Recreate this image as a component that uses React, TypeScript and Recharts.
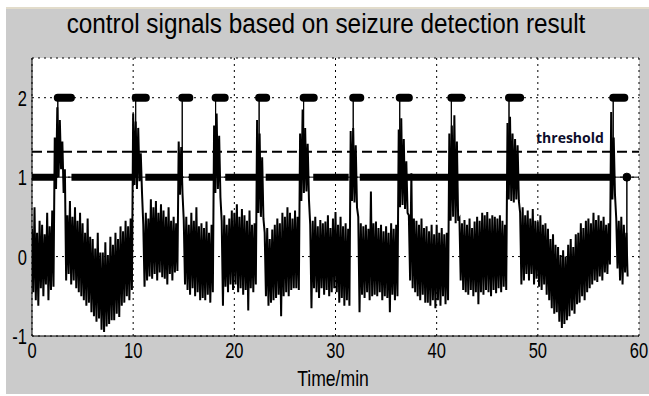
import { CartesianGrid, Line, LineChart, ReferenceLine, XAxis, YAxis } from "recharts";

// signal envelope, sampled every 0.25 min (top of the noise band, then bottom)
const step = 0.25;
const upper = [
  0.35, 0.62, 0.3, 0.45, 0.4, 0.28, 0.55, 0.38, 0.58, 1.5, 1.88, 1.72,
  1.45, 1.1, 0.52, 0.7, 0.5, 0.62, 0.45, 0.55, 0.42, 0.3, 0.48, 0.25,
  0.22, 0.1, 0.3, 0.05, 0.05, 0.18, 0.02, 0.25, 0.15, 0.3, 0.22, 0.38,
  0.32, 0.45, 0.38, 0.48, 1.8, 1.7, 1.62, 1.3, 0.4, 0.55, 0.48, 0.72,
  0.62, 0.7, 0.55, 0.66, 0.58, 0.5, 0.62, 0.45, 0.5, 0.42, 1.45, 1.38,
  0.46, 0.5, 0.4, 0.55, 0.45, 0.62, 0.38, 0.42, 0.36, 0.44, 0.3, 0.4,
  1.65, 1.8, 1.52, 0.45, 0.52, 0.4, 0.48, 0.58, 0.55, 0.66, 0.5, 0.6,
  0.52, 0.45, 0.58, 0.4, 0.42, 1.72, 1.55, 1.25, 0.3, 0.36, 0.22, 0.34,
  0.4, 0.48, 0.42, 0.55, 0.5, 0.62, 0.55, 0.48, 0.58, 0.5, 1.55, 1.85,
  1.62, 1.42, 0.4, 0.45, 0.5, 0.38, 0.46, 0.42, 0.44, 0.52, 0.36, 0.48,
  0.56, 0.4, 0.5, 0.38, 0.42, 0.35, 1.58, 1.62, 1.4, 0.5, 0.42, 0.38,
  0.4, 0.35, 0.82, 0.42, 0.44, 0.36, 0.4, 0.32, 0.38, 0.3, 0.42, 0.35,
  0.4, 1.6, 1.74, 1.48, 1.2, 0.52, 1.05, 0.48, 0.45, 0.4, 0.48, 0.36,
  0.38, 0.32, 0.4, 0.28, 0.4, 0.3, 0.36, 0.28, 0.3, 1.55, 1.65, 1.78,
  1.45, 0.48, 0.42, 0.46, 0.4, 0.48, 0.36, 0.44, 0.5, 0.45, 0.55, 0.52,
  0.56, 0.48, 0.52, 0.5, 0.48, 0.52, 0.45, 0.4, 1.68, 1.76, 1.55, 1.48,
  1.4, 0.55, 0.62, 0.52, 0.58, 0.48, 0.6, 0.45, 0.44, 0.52, 0.4, 0.42,
  0.35, 0.22, 0.28, 0.15, 0.12, 0.02, 0.08, 0.0, 0.15, 0.22, 0.12, 0.28,
  0.3, 0.42, 0.36, 0.45, 0.48, 0.42, 0.55, 0.46, 0.52, 0.45, 0.5, 0.4,
  0.42, 1.82, 1.5, 0.48, 0.45, 0.5, 0.4, 0.3
];
const lower = [
  -0.45, -0.55, -0.62, -0.4, -0.5, -0.35, -0.55, -0.42, -0.38, 0.85, 1.0, 1.1,
  0.8, -0.3, -0.22, -0.35, -0.3, -0.4, -0.45, -0.5, -0.55, -0.62, -0.58, -0.7,
  -0.75, -0.82, -0.78, -0.92, -0.95, -0.88, -0.85, -0.8, -0.8, -0.72, -0.76, -0.62,
  -0.58, -0.5, -0.55, -0.42, 0.9, 0.85, 0.95, 0.8, -0.38, -0.3, -0.25, -0.28,
  -0.22, -0.3, -0.2, -0.26, -0.28, -0.35, -0.22, -0.3, -0.2, -0.18, 0.78, 0.8,
  -0.35, -0.42, -0.48, -0.4, -0.5, -0.45, -0.55, -0.52, -0.55, -0.48, -0.58, -0.45,
  0.8, 0.85, 0.75, -0.62, -0.38, -0.45, -0.35, -0.42, -0.35, -0.45, -0.4, -0.48,
  -0.42, -0.68, -0.4, -0.45, -0.35, 0.55, 0.5, 0.48, -0.5, -0.62, -0.58, -0.55,
  -0.52, -0.48, -0.75, -0.5, -0.45, -0.5, -0.42, -0.4, -0.4, -0.42, 0.7, 0.8,
  0.82, 0.72, -0.65, -0.4, -0.45, -0.52, -0.4, -0.48, -0.42, -0.5, -0.45, -0.4,
  -0.45, -0.58, -0.52, -0.62, -0.55, -0.62, 0.7, 0.68, 0.62, -0.7, -0.48, -0.52,
  -0.45, -0.55, -0.5, -0.48, -0.5, -0.45, -0.55, -0.5, -0.52, -0.7, -0.48, -0.55,
  -0.5, 0.62, 0.65, 0.6, 0.55, -0.3, -0.4, -0.45, -0.5, -0.55, -0.48, -0.58,
  -0.58, -0.62, -0.55, -0.65, -0.55, -0.62, -0.5, -0.6, -0.55, 0.45, 0.5, 0.42,
  0.45, -0.3, -0.42, -0.45, -0.48, -0.42, -0.5, -0.45, -0.6, -0.45, -0.48, -0.42,
  -0.45, -0.5, -0.42, -0.46, -0.4, -0.45, -0.38, -0.42, 0.72, 0.7, 0.68, 0.72,
  0.7, -0.35, -0.3, -0.22, -0.3, -0.22, -0.35, -0.28, -0.38, -0.42, -0.35, -0.48,
  -0.55, -0.65, -0.72, -0.7, -0.82, -0.9, -0.85, -0.8, -0.75, -0.68, -0.72, -0.6,
  -0.58, -0.5, -0.55, -0.45, -0.4, -0.35, -0.3, -0.32, -0.25, -0.3, -0.2, -0.22,
  -0.1, 0.72, 0.78, -0.15, -0.3, -0.35, -0.2, -0.25
];

// control signal: level 2 during detected seizures, level 1 otherwise
const seizureStart = [2.2, 9.9, 14.5, 17.8, 22.1, 26.5, 31.4, 36.0, 41.1, 46.8, 57.1];
const seizureEnd = [4.2, 11.6, 15.9, 19.4, 23.5, 28.2, 32.8, 37.6, 42.8, 48.6, 58.9];
const levelOneStart = [0, 3.9, 11.2, 15.5, 19.1, 23.1, 27.8, 32.4];
const levelOneEnd = [2.2, 10.0, 14.8, 18.0, 22.2, 26.6, 31.3, 57.4];
const controlOff = 58.8;
const threshold = 1.32;

const xTicks = [0, 10, 20, 30, 40, 50, 60];
const yTicks = [-1, 0, 1, 2];

const capInset = 0.35;

const signal: { t: number; v: number }[] = [];
upper.forEach((u, i) => {
  signal.push({ t: i * step, v: u });
  signal.push({ t: i * step + step / 2, v: lower[i] });
});

const levelTwo: { t: number; v: number | null }[] = [];
seizureStart.forEach((s, i) => {
  levelTwo.push({ t: s + capInset, v: 2 }, { t: seizureEnd[i] - capInset, v: 2 }, { t: seizureEnd[i], v: null });
});

const levelOne: { t: number; v: number | null }[] = [];
levelOneStart.forEach((s, i) => {
  levelOne.push({ t: s, v: 1 }, { t: levelOneEnd[i], v: 1 }, { t: levelOneEnd[i] + 0.01, v: null });
});

const thin: { t: number; v: number }[] = [{ t: 0, v: 1 }];
seizureStart.forEach((s) => {
  const x = s + capInset;
  thin.push({ t: x, v: 1 }, { t: x, v: 2 }, { t: x, v: 1 });
});
thin.push({ t: controlOff, v: 1 }, { t: controlOff, v: 0 }, { t: controlOff, v: 1 }, { t: 60, v: 1 });

const endDot = [{ t: controlOff, v: 1 }];

const font = "'Liberation Sans', Arial, sans-serif";

const XTick = (p: any) => (
  <text
    transform={`translate(${p.x},${p.y + 14}) scale(0.75,1)`}
    textAnchor="middle"
    fontSize={22}
    fontFamily={font}
    fill="#000"
  >
    {p.payload.value}
  </text>
);

const YTick = (p: any) => (
  <text
    transform={`translate(${p.x + 3},${p.y + 8}) scale(0.75,1)`}
    textAnchor="end"
    fontSize={22}
    fontFamily={font}
    fill="#000"
  >
    {p.payload.value}
  </text>
);

export default function App() {
  return (
    <div style={{ position: "absolute", left: 0, top: 0, width: 649, height: 396, background: "#fff" }}>
      <div style={{ position: "absolute", left: 6, top: 7, width: 643, height: 2, background: "#e2dccb" }} />
      <div style={{ position: "absolute", left: 6, top: 9, width: 643, height: 385, background: "#cbcbcb" }} />
      <div
        style={{
          position: "absolute",
          left: 326,
          top: 9,
          transform: "translateX(-50%) scaleX(0.9)",
          whiteSpace: "nowrap",
          fontFamily: font,
          fontSize: 27,
          color: "#000"
        }}
      >
        control signals based on seizure detection result
      </div>
      <div
        style={{
          position: "absolute",
          left: 333,
          top: 366,
          transform: "translateX(-50%) scaleX(0.8)",
          whiteSpace: "nowrap",
          fontFamily: font,
          fontSize: 22,
          color: "#000"
        }}
      >
        Time/min
      </div>
      <div style={{ position: "absolute", left: 0, top: 0 }}>
        <LineChart width={649} height={396} margin={{ top: 58, right: 10, bottom: 40, left: 0 }}>
          <CartesianGrid stroke="#000" strokeDasharray="2 4" fill="#fff" fillOpacity={1} />
          <XAxis
            dataKey="t"
            type="number"
            domain={[0, 60]}
            ticks={xTicks}
            height={20}
            stroke="#000"
            tickLine={false}
            tick={<XTick />}
            allowDataOverflow
          />
          <XAxis xAxisId="top" orientation="top" type="number" domain={[0, 60]} height={0} stroke="#000" tick={false} tickLine={false} />
          <YAxis
            dataKey="v"
            type="number"
            domain={[-1, 2.5]}
            ticks={yTicks}
            width={32}
            stroke="#000"
            tickLine={false}
            tick={<YTick />}
            allowDataOverflow
          />
          <YAxis yAxisId="right" orientation="right" type="number" domain={[-1, 2.5]} width={0} stroke="#000" tick={false} tickLine={false} />
          <ReferenceLine y={threshold} stroke="#000" strokeWidth={2} strokeDasharray="10 5" />
          <Line data={signal} dataKey="v" stroke="#000" strokeWidth={2} strokeLinejoin="miter" dot={false} isAnimationActive={false} />
          <Line data={thin} dataKey="v" stroke="#000" strokeWidth={1} dot={false} isAnimationActive={false} />
          <Line data={levelOne} dataKey="v" stroke="#000" strokeWidth={7} strokeLinecap="butt" dot={false} isAnimationActive={false} />
          <Line data={levelTwo} dataKey="v" stroke="#000" strokeWidth={8} strokeLinecap="round" dot={false} isAnimationActive={false} />
          <Line data={endDot} dataKey="v" stroke="#000" dot={{ r: 4, fill: "#000", stroke: "#000" }} isAnimationActive={false} />
        </LineChart>
      </div>
      <div
        style={{
          position: "absolute",
          left: 536,
          top: 128,
          fontFamily: "'Open Sans', sans-serif",
          fontWeight: 700,
          fontSize: 14,
          color: "#0d0d2b"
        }}
      >
        threshold
      </div>
    </div>
  );
}
